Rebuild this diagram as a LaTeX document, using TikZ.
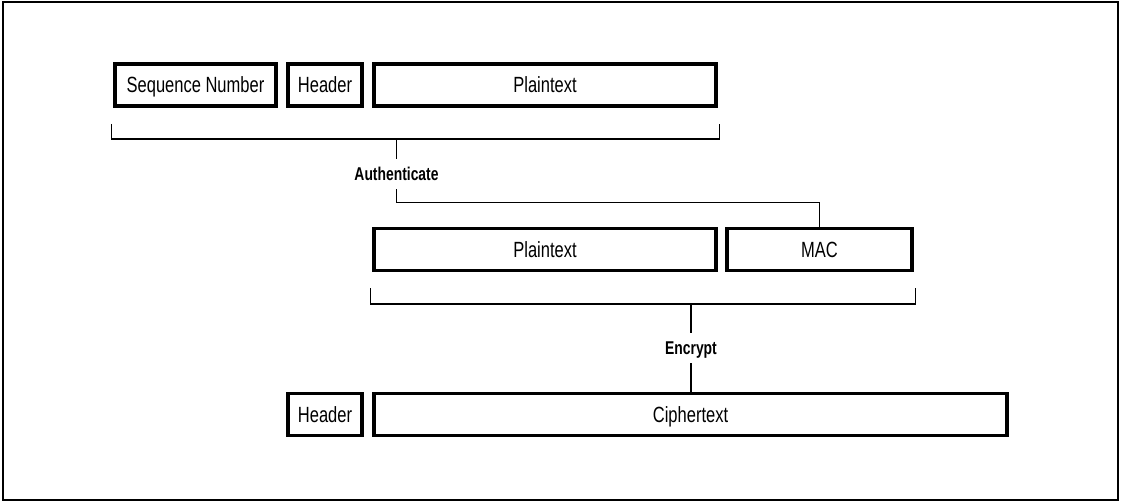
\documentclass[tikz,border=0pt]{standalone}
\usepackage{fontspec}
\setmainfont{Liberation Sans}[FakeStretch=0.75]
\usepackage{tikz}

\begin{document}
\begin{tikzpicture}[x=1pt,y=-1pt,
                    field/.style={draw,line width=3.6pt,minimum height=42pt,inner sep=0pt,
                                  text height=15.7pt,text depth=0pt,
                                  font=\fontsize{22}{25}\selectfont},
                    step name/.style={inner sep=0pt,minimum height=30pt,
                                  text height=13.2pt,text depth=0pt,
                                  font=\bfseries\fontsize{18.5}{21}\selectfont},
                    wire/.style={line width=1.3pt}]

  \useasboundingbox (0,0) rectangle (1121,502);
  \draw[line width=1.8pt] (3,2) rectangle (1118,500);

  % before
  \node[field,minimum width=161pt] (seq) at (195.5,85) {Sequence Number};
  \node[field,minimum width=74pt]  (hdr) at (325,85)   {Header};
  \node[field,minimum width=342pt] (pt)  at (545,85)   {Plaintext};

  % after MAC
  \node[field,minimum width=342pt] (pt2) at (545,249.5)   {Plaintext};
  \node[field,minimum width=185pt] (mac) at (819.5,249.5) {MAC};

  % after encryption
  \node[field,minimum width=74pt]  (hdr2) at (325,414.5) {Header};
  \node[field,minimum width=633pt] (ct)   at (690.5,414.5) {Ciphertext};

  \node[step name] (auth) at (396.5,174) {Authenticate};
  \node[step name] (enc)  at (691,348)   {Encrypt};

  \coordinate (b1) at (auth |- 0,139);
  \coordinate (b2) at (enc |- 0,304);

  \draw[wire] ([shift={(-1.5,16)}]seq.south west) |- (b1)
              -| ([shift={(1.5,16)}]pt.south east);
  \draw[wire] (b1) -- (auth.north);
  \draw[wire] (auth.south) -- ++(0,13) -| (mac.north);

  \draw[wire] ([shift={(-1.5,16)}]pt2.south west) |- (b2)
              -| ([shift={(1.5,16)}]mac.south east);
  \draw[wire] (b2) -- (enc.north);
  \draw[wire] (enc.south) -- (enc |- ct.north);
\end{tikzpicture}
\end{document}
